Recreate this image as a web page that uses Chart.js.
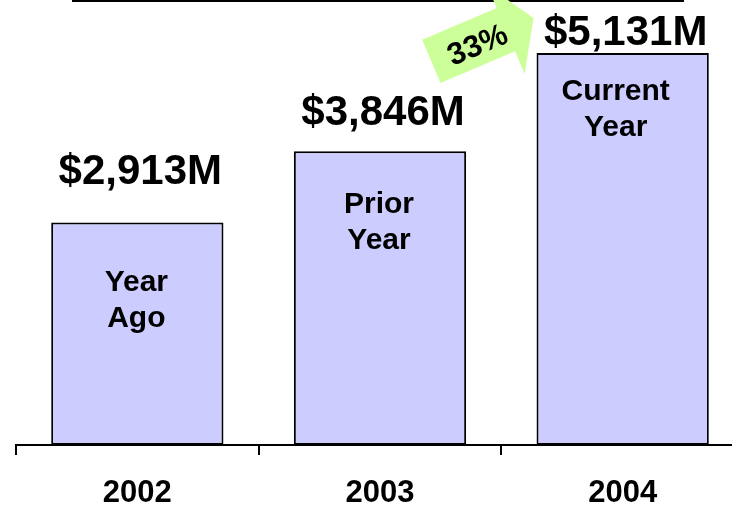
<!DOCTYPE html>
<html>
<head>
<meta charset="utf-8">
<title>Receita por ano</title>
<script src="https://cdn.jsdelivr.net/npm/chart.js@4.4.1/dist/chart.umd.min.js"></script>
<style>
    html, body { margin: 0; padding: 0; background: #fff; overflow: hidden; }
    #wrap { width: 744px; height: 507px; }
</style>
</head>
<body>
<div id="wrap">
    <canvas id="receitaChart" width="744" height="507"></canvas>
</div>
<script>
// Dados do gráfico
const anos = ['2002', '2003', '2004'];
const receita = [2913, 3846, 5131]; // em milhões de dólares
const notas = [['Year', 'Ago'], ['Prior', 'Year'], ['Current', 'Year']];

// Ajustes de posição dos textos (px), por barra
const valorAcima = [38, 26, 8];
const notaAbaixo = [69, 62, 47];
const notaDesvioX = [-1, -1, -7];

const FONTE = '"Liberation Sans", Arial, sans-serif';

// Formatar valor
function formatValor(v) {
    return '$' + v.toLocaleString('en-US') + 'M';
}

// Plugin para textos e seta
const textosPlugin = {
    id: 'textos',
    afterDatasetsDraw(chart) {
        const ctx = chart.ctx;
        const bars = chart.getDatasetMeta(0).data;

        ctx.save();

        // linha do título (cortada no topo)
        ctx.fillStyle = '#000';
        ctx.fillRect(72, 0, 612, 2);

        ctx.fillStyle = '#000';
        ctx.textAlign = 'center';
        ctx.textBaseline = 'alphabetic';

        bars.forEach((bar, i) => {
            // valor acima da barra
            ctx.font = 'bold 42px ' + FONTE;
            ctx.fillText(formatValor(receita[i]), bar.x + 3, bar.y - valorAcima[i]);

            // texto dentro da barra
            ctx.font = 'bold 30px ' + FONTE;
            notas[i].forEach((linha, j) => {
                ctx.fillText(linha, bar.x + notaDesvioX[i], bar.y + notaAbaixo[i] + j * 36);
            });
        });

        // seta de crescimento entre 2003 e 2004
        const ultima = bars[bars.length - 1];
        const crescimento = Math.round((receita[2] / receita[1] - 1) * 100);
        const pontaX = ultima.x - ultima.width / 2 - 3;
        const pontaY = ultima.y - 35;

        ctx.translate(pontaX, pontaY);
        ctx.rotate(-23 * Math.PI / 180);
        ctx.fillStyle = '#ccff99';
        ctx.beginPath();
        ctx.moveTo(0, 0);
        ctx.lineTo(-30, 48);
        ctx.lineTo(-30, 23.5);
        ctx.lineTo(-111, 23.5);
        ctx.lineTo(-111, -23.5);
        ctx.lineTo(-30, -23.5);
        ctx.lineTo(-30, -48);
        ctx.closePath();
        ctx.fill();

        ctx.fillStyle = '#000';
        ctx.font = 'bold 31px ' + FONTE;
        ctx.textBaseline = 'middle';
        ctx.fillText(crescimento + '%', -62, 4);

        ctx.restore();
    }
};

// Criar gráfico de receita
function criarGrafico() {
    const ctx = document.getElementById('receitaChart');

    new Chart(ctx, {
        type: 'bar',
        data: {
            labels: anos,
            datasets: [{
                data: receita,
                backgroundColor: '#ccccff',
                borderColor: '#000',
                borderWidth: 2,
                borderSkipped: false,
                categoryPercentage: 1,
                barPercentage: 0.71
            }]
        },
        options: {
            responsive: false,
            animation: false,
            layout: {
                padding: { left: 16, right: 0, top: 0, bottom: 0 }
            },
            plugins: {
                legend: { display: false },
                tooltip: { enabled: false }
            },
            scales: {
                y: {
                    display: false,
                    min: 0,
                    max: 5825
                },
                x: {
                    offset: true,
                    grid: {
                        offset: true,
                        drawOnChartArea: false,
                        drawTicks: true,
                        tickLength: 10,
                        color: '#000',
                        lineWidth: 2
                    },
                    border: {
                        display: true,
                        color: '#000',
                        width: 2
                    },
                    ticks: {
                        color: '#000',
                        padding: 20,
                        font: { family: FONTE, size: 31, weight: 'bold' }
                    },
                    afterFit(scale) {
                        scale.height = 62;
                    }
                }
            }
        },
        plugins: [textosPlugin]
    });
}

criarGrafico();
</script>
</body>
</html>
